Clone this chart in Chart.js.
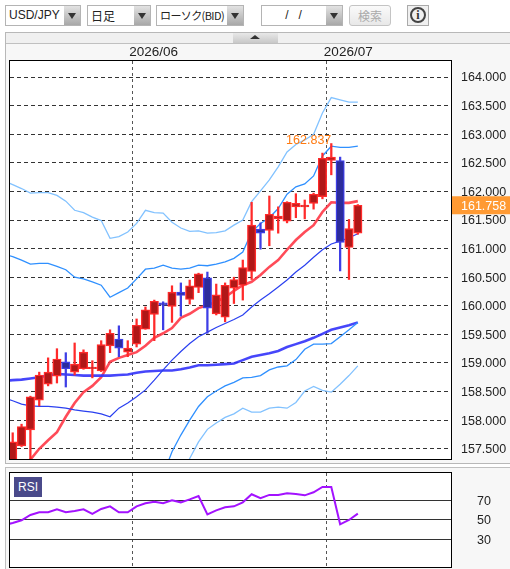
<!DOCTYPE html>
<html>
<head>
<meta charset="utf-8">
<script src="https://cdn.jsdelivr.net/npm/chart.js"></script>
<style>
  html, body { margin: 0; padding: 0; background: #fff; overflow: hidden; }
  body { width: 510px; height: 569px; position: relative; font-family: "Liberation Sans", Arial, sans-serif; color: #222; }
  .abs { position: absolute; box-sizing: border-box; }
  .combo { height: 21px; top: 5px; border: 1px solid #b4b4b4; background: #fff; font-size: 12px; line-height: 19px; padding-left: 3px; white-space: nowrap; }
  .combo .arrow { position: absolute; right: 0; top: 0; bottom: 0; width: 16px; background: linear-gradient(#e2e2e2, #a8a8a8); }
  .combo .arrow::after { content: ""; position: absolute; left: 4px; top: 7px; border-left: 4px solid transparent; border-right: 4px solid transparent; border-top: 6px solid #333; }
  canvas { position: absolute; left: 0; }
</style>
</head>
<body>
<div class="abs combo" style="left:5px;width:76px;">USD/JPY<span class="arrow"></span></div>
<div class="abs combo" style="left:87px;width:64px;font-family:'Noto Sans CJK JP';">日足<span class="arrow"></span></div>
<div class="abs combo" style="left:156px;width:88px;font-family:'Noto Sans CJK JP';font-size:11px;letter-spacing:-0.6px;">ローソク(BID)<span class="arrow"></span></div>
<div class="abs combo" style="left:261px;width:82px;text-align:center;padding-right:20px;">/&nbsp;&nbsp;&nbsp;/<span class="arrow"></span></div>
<div class="abs" style="left:349px;top:5px;width:42px;height:21px;border:1px solid #c4c4c4;border-radius:3px;background:linear-gradient(#fafafa,#e8e8e8);color:#aaa;font:12px/19px 'Noto Sans CJK JP';text-align:center;">検索</div>
<div class="abs" style="left:407px;top:5px;width:22px;height:21px;border:1px solid #aaa;background:#f0f0f0;">
  <div class="abs" style="left:2px;top:1px;width:16px;height:16px;border:2px solid #444;border-radius:50%;color:#333;font:bold 12px/12px 'Liberation Serif';text-align:center;">i</div>
</div>

<div class="abs" style="left:5px;top:32px;width:505px;height:432px;border:1px solid #b8b8b8;border-right:none;background:#f7f7f7;"></div>
<div class="abs" style="left:6px;top:33px;width:504px;height:11px;background:#f0f0f0;border-bottom:1px solid #c0c0c0;"></div>
<div class="abs" style="left:233px;top:33px;width:45px;height:10px;background:linear-gradient(#e8e8e8,#c8c8c8);">
  <div class="abs" style="left:17px;top:2px;border-left:5px solid transparent;border-right:5px solid transparent;border-bottom:4px solid #333;"></div>
</div>
<div class="abs" style="left:5px;top:467px;width:505px;height:102px;border:1px solid #c0c0c0;border-right:none;border-bottom:none;background:#f7f7f7;"></div>

<canvas id="mainChart" width="510" height="416" style="top:44px;width:510px;height:416px;"></canvas>
<canvas id="rsiChart" width="510" height="96" style="top:472px;width:510px;height:96px;"></canvas>
<div class="abs" style="left:14px;top:477px;width:28px;height:20px;background:#4a4a8a;color:#fff;font-size:12px;line-height:20px;text-align:center;">RSI</div>

<script>
// candles, oldest first
const opens = [157.13, 157.55, 157.83, 158.35, 158.63, 158.77, 159.02, 158.84, 158.90, 158.90,
  158.86, 159.30, 159.42, 159.19, 159.33, 159.59, 159.85, 160.05, 159.99, 160.24,
  160.11, 160.32, 160.49, 159.86, 159.80, 160.31, 160.36, 160.60, 161.34, 161.32,
  161.52, 161.48, 161.73, 161.73, 161.79, 161.91, 162.54, 162.54, 161.02, 161.27];
const closes = [157.62, 157.89, 158.41, 158.79, 158.84, 159.07, 158.90, 158.98, 159.19, 158.93,
  159.32, 159.52, 159.26, 159.26, 159.66, 159.93, 160.08, 160.01, 160.24, 160.18,
  160.35, 160.56, 159.96, 160.19, 160.36, 160.46, 160.67, 161.41, 161.27, 161.60,
  161.57, 161.81, 161.79, 161.76, 161.95, 162.58, 162.60, 161.11, 161.35, 161.758];
const highs = [157.78, 157.93, 158.42, 158.84, 159.09, 159.25, 159.18, 159.35, 159.23, 159.04,
  159.39, 159.58, 159.65, 159.39, 159.77, 159.98, 160.10, 160.07, 160.35, 160.40,
  160.45, 160.57, 160.59, 160.38, 160.40, 160.50, 160.80, 161.81, 161.45, 161.92,
  161.73, 161.82, 161.96, 161.85, 161.97, 162.67, 162.837, 162.60, 161.51, 161.77];
const lows = [157.0, 157.54, 157.27, 158.25, 158.60, 158.65, 158.58, 158.79, 158.89, 158.74,
  158.85, 159.18, 159.11, 159.11, 159.28, 159.59, 159.39, 159.58, 159.71, 159.82,
  160.03, 160.23, 159.52, 159.84, 159.72, 160.04, 160.10, 160.46, 160.99, 161.05,
  161.27, 161.45, 161.54, 161.52, 161.69, 161.87, 162.29, 160.61, 160.46, 161.25];

// lines start one day before the first candle so they reach the left edge
const emaFast = [157.55, 157.37, 157.13, 157.31, 157.50, 157.65, 157.79, 158.06, 158.30, 158.49, 158.60,
  158.75, 159.02, 159.09, 159.14, 159.19, 159.30, 159.44, 159.52, 159.61, 159.79,
  159.86, 159.96, 160.01, 160.07, 160.15, 160.26, 160.36, 160.42, 160.54, 160.68,
  160.80, 160.98, 161.15, 161.29, 161.41, 161.64, 161.81, 161.80, 161.80, 161.83];
const maSlow = [158.69, 158.70, 158.71, 158.73, 158.75, 158.78, 158.81, 158.80, 158.79, 158.78, 158.78,
  158.78, 158.78, 158.79, 158.80, 158.83, 158.85, 158.86, 158.87, 158.87, 158.89,
  158.92, 158.96, 158.96, 158.97, 158.98, 158.99, 159.05, 159.11, 159.14, 159.17,
  159.21, 159.28, 159.33, 159.38, 159.44, 159.51, 159.58, 159.62, 159.66, 159.71];
const maMid = [158.39, 158.34, 158.28, 158.25, 158.24, 158.24, 158.23, 158.21, 158.18, 158.16, 158.14,
  158.11, 158.06, 158.21, 158.30, 158.41, 158.53, 158.70, 158.88, 159.05, 159.20,
  159.34, 159.46, 159.54, 159.62, 159.69, 159.76, 159.84, 159.98, 160.10, 160.21,
  160.33, 160.45, 160.59, 160.71, 160.85, 160.98, 161.08, 161.13, 161.19, 161.26];
const bandUpper1 = [160.90, 160.86, 160.80, 160.73, 160.74, 160.74, 160.69, 160.63, 160.50, 160.47, 160.42,
  160.36, 160.15, 160.23, 160.31, 160.47, 160.64, 160.66, 160.71, 160.66, 160.64,
  160.66, 160.71, 160.70, 160.73, 160.77, 160.83, 160.94, 161.29, 161.44, 161.54,
  161.70, 161.95, 162.08, 162.13, 162.27, 162.62, 162.79, 162.77, 162.77, 162.79];
const bandUpper2 = [162.18, 162.12, 162.05, 161.97, 161.98, 161.98, 161.93, 161.83, 161.67, 161.63, 161.55,
  161.49, 161.18, 161.21, 161.29, 161.44, 161.67, 161.63, 161.62, 161.46, 161.36,
  161.30, 161.31, 161.27, 161.28, 161.31, 161.41, 161.50, 161.82, 162.01, 162.20,
  162.43, 162.69, 162.82, 162.90, 163.00, 163.37, 163.64, 163.60, 163.56, 163.56];
const bandLower1 = [null, null, null, null, null, null, null, null, null, null, null,
  null, null, null, null, null, null, null, 157.04, 157.45, 157.74,
  158.00, 158.24, 158.41, 158.51, 158.60, 158.66, 158.74, 158.75, 158.78, 158.88,
  158.93, 158.95, 159.06, 159.24, 159.33, 159.33, 159.34, 159.46, 159.58, 159.71];
const bandLower2 = [null, null, null, null, null, null, null, null, null, null, null,
  null, null, null, null, null, null, null, null, null, 157.04,
  157.33, 157.62, 157.84, 157.95, 158.05, 158.11, 158.21, 158.14, 158.14, 158.21,
  158.23, 158.21, 158.31, 158.51, 158.59, 158.52, 158.49, 158.63, 158.78, 158.95];
const rsi = [44.4, 46.8, 49.5, 55.0, 57.7, 57.7, 60.8, 57.7, 59.1, 60.8, 56.0,
  61.1, 63.8, 57.7, 57.7, 63.8, 66.9, 68.6, 66.9, 70.0, 67.9,
  71.0, 74.4, 55.6, 59.7, 62.8, 63.8, 67.9, 76.2, 72.1, 75.5,
  75.5, 77.2, 76.5, 75.1, 78.2, 83.7, 83.7, 45.4, 49.8, 56.3];

const priceTicks = [157.5, 158, 158.5, 159, 159.5, 160, 160.5, 161, 161.5, 162, 162.5, 163, 163.5, 164];
const rsiTicks = [30, 50, 70];
const monthLabels = { 13.5: '2026/06', 35.5: '2026/07' };
const lastPrice = 161.758;
const highPrice = 162.837;
const highDay = 36;

const xRange = { min: -0.305, max: 49.64 };
const tickFont = { family: 'Liberation Sans', size: 12.5 };
const UP_FILL = '#b01818', UP_LINE = '#ff2a2a', DOWN_FILL = '#2c2c9c', DOWN_LINE = '#3e3ee6';

const isUp = i => closes[i] >= opens[i];
const linePoints = values => values.map((v, i) => ({ x: i - 1, y: v }));

function lineSet(values, color, width) {
    return { type: 'line', data: linePoints(values), borderColor: color, borderWidth: width,
        pointRadius: 0, tension: 0, order: 5, clip: 0 };
}

function monthGrid() {
    return { color: '#555', drawTicks: false, lineWidth: 1, offset: false };
}

// keep the plot box at the fixed size: labels may hang over its edges
function fixAxis(scale, size) {
    if (scale.isHorizontal()) {
        scale.height = size;
    } else {
        scale.width = size;
    }
    scale.paddingTop = scale.paddingBottom = scale.paddingLeft = scale.paddingRight = 0;
}

const plotFrame = {
    id: 'plotFrame',
    beforeDraw(chart) {
        const a = chart.chartArea, ctx = chart.ctx;
        ctx.fillStyle = '#fff';
        ctx.fillRect(a.left, a.top, a.width, a.height);
    },
    afterDraw(chart) {
        const a = chart.chartArea, ctx = chart.ctx;
        ctx.strokeStyle = '#000';
        ctx.lineWidth = 1;
        ctx.strokeRect(a.left - 0.5, a.top - 0.5, a.width, a.height);
    }
};

const priceMarks = {
    id: 'priceMarks',
    afterDraw(chart) {
        const ctx = chart.ctx, y = chart.scales.y, x = chart.scales.x, a = chart.chartArea;
        const py = y.getPixelForValue(lastPrice);
        ctx.fillStyle = '#ff9a33';
        ctx.fillRect(a.right, py - 9, 58, 18);
        ctx.fillStyle = '#fff';
        ctx.font = '12.5px "Liberation Sans"';
        ctx.textBaseline = 'middle';
        ctx.textAlign = 'left';
        ctx.fillText(lastPrice.toFixed(3), a.right + 9, py + 1);
        ctx.fillStyle = '#ff7a10';
        ctx.textAlign = 'right';
        ctx.textBaseline = 'bottom';
        ctx.fillText(highPrice.toFixed(3), x.getPixelForValue(highDay), y.getPixelForValue(highPrice) + 3);
    }
};

new Chart(document.getElementById('mainChart'), {
    type: 'bar',
    data: {
        datasets: [
            lineSet(bandUpper2, '#82c2ff', 1.3),
            lineSet(bandLower2, '#82c2ff', 1.3),
            lineSet(bandUpper1, '#2f90ff', 1.3),
            lineSet(bandLower1, '#2f90ff', 1.3),
            lineSet(maMid, '#2a40f0', 1.2),
            lineSet(maSlow, 'rgba(50,50,250,0.9)', 2.6),
            lineSet(emaFast, 'rgba(255,55,70,0.9)', 2.6),
            {
                data: lows.map((v, i) => ({ x: i, y: [v, highs[i]] })),
                backgroundColor: lows.map((v, i) => isUp(i) ? UP_LINE : DOWN_LINE),
                barThickness: 1.6, order: 2, grouped: false
            },
            {
                data: opens.map((v, i) => ({ x: i, y: [v, closes[i]] })),
                backgroundColor: opens.map((v, i) => isUp(i) ? UP_FILL : DOWN_FILL),
                borderColor: opens.map((v, i) => isUp(i) ? UP_LINE : DOWN_LINE),
                borderWidth: 1.4, borderSkipped: false, barThickness: 8.4, order: 1, grouped: false
            }
        ]
    },
    options: {
        responsive: false,
        animation: false,
        devicePixelRatio: 1,
        layout: { padding: { left: 10, top: 0, right: 0, bottom: 0 } },
        plugins: { legend: { display: false }, tooltip: { enabled: false } },
        scales: {
            x: {
                type: 'linear', position: 'top', offset: false,
                min: xRange.min, max: xRange.max,
                afterBuildTicks: s => { s.ticks = Object.keys(monthLabels).map(k => ({ value: +k })); },
                afterFit: s => fixAxis(s, 17),
                grid: monthGrid(),
                border: { display: false, dash: [3, 3] },
                ticks: {
                    autoSkip: false, maxRotation: 0, align: 'start', padding: 1, labelOffset: -3,
                    color: '#222', font: { family: 'Liberation Sans', size: 13.5 },
                    callback: v => monthLabels[v]
                }
            },
            y: {
                position: 'right', min: 157.304, max: 164.28,
                afterBuildTicks: s => { s.ticks = priceTicks.map(v => ({ value: v })); },
                afterFit: s => fixAxis(s, 58),
                grid: { color: '#333', drawTicks: false, lineWidth: 1 },
                border: { display: false, dash: [4, 3] },
                ticks: {
                    autoSkip: false, padding: 9, labelOffset: 1, color: '#222', font: tickFont,
                    callback: v => v.toFixed(3)
                }
            }
        }
    },
    plugins: [plotFrame, priceMarks]
});

new Chart(document.getElementById('rsiChart'), {
    type: 'line',
    data: {
        datasets: [{ data: linePoints(rsi), borderColor: '#a312ff', borderWidth: 2, pointRadius: 0, tension: 0, clip: 0 }]
    },
    options: {
        responsive: false,
        animation: false,
        devicePixelRatio: 1,
        layout: { padding: { left: 10, top: 1, right: 0, bottom: 0 } },
        plugins: { legend: { display: false }, tooltip: { enabled: false } },
        scales: {
            x: {
                type: 'linear', min: xRange.min, max: xRange.max,
                afterBuildTicks: s => { s.ticks = Object.keys(monthLabels).map(k => ({ value: +k })); },
                afterFit: s => fixAxis(s, 0),
                grid: monthGrid(),
                border: { display: false, dash: [3, 3] },
                ticks: { display: false }
            },
            y: {
                position: 'right', min: 0.56, max: 98,
                afterBuildTicks: s => { s.ticks = rsiTicks.map(v => ({ value: v })); },
                afterFit: s => fixAxis(s, 58),
                grid: { color: '#333', drawTicks: false, lineWidth: 1 },
                border: { display: false },
                ticks: { autoSkip: false, padding: 25, labelOffset: 1, color: '#222', font: tickFont }
            }
        }
    },
    plugins: [plotFrame]
});
</script>
</body>
</html>
